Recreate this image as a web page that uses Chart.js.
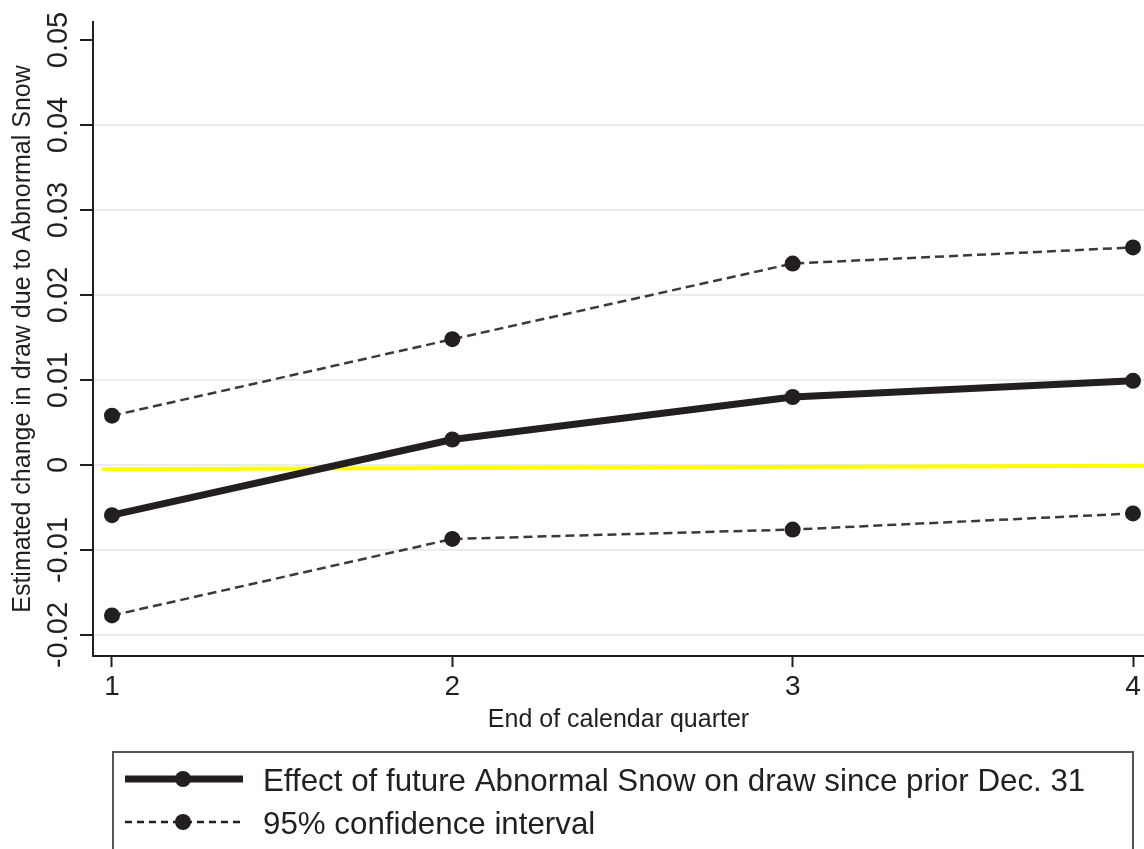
<!DOCTYPE html>
<html>
<head>
<meta charset="utf-8">
<script src="https://cdn.jsdelivr.net/npm/chart.js@4.4.1/dist/chart.umd.min.js"></script>
<style>
  html, body { margin: 0; padding: 0; background: #fff; }
  canvas { display: block; }
</style>
</head>
<body>
<canvas id="chart" width="1144" height="849"></canvas>
<script>
// values
var quarters = [1, 2, 3, 4];
var estimate = [-0.0059, 0.0030, 0.0080, 0.0099];
var upperCI = [0.0058, 0.0148, 0.0237, 0.0256];
var lowerCI = [-0.0177, -0.0087, -0.0076, -0.0057];
var refLineX = [0.97, 4.04];
var refLineY = [-0.0005, -0.0001];
var yTicks = [-0.02, -0.01, 0, 0.01, 0.02, 0.03, 0.04, 0.05];
var yTickLabels = ['-0.02', '-0.01', '0', '0.01', '0.02', '0.03', '0.04', '0.05'];
var xTickLabels = ['1', '2', '3', '4'];
var legendLabels = ['Effect of future Abnormal Snow on draw since prior Dec. 31', '95% confidence interval'];

var ink = '#231f20';
var fontFamily = '"Liberation Sans", Arial, Helvetica, sans-serif';

function toPoints(xs, ys) {
  return xs.map(function(x, i) { return {x: x, y: ys[i]}; });
}

// tick labels drawn here (y ones are rotated), plus the legend with line+marker samples
var extras = {
  id: 'extras',
  afterDraw: function(chart) {
    var ctx = chart.ctx;
    var yScale = chart.scales.y;
    var xScale = chart.scales.x;
    ctx.save();
    ctx.fillStyle = ink;
    ctx.font = '29px ' + fontFamily;
    ctx.textAlign = 'center';
    ctx.textBaseline = 'alphabetic';
    yTicks.forEach(function(v, i) {
      var py = yScale.getPixelForValue(v);
      ctx.save();
      ctx.translate(67, py);
      ctx.rotate(-Math.PI / 2);
      ctx.fillText(yTickLabels[i], 0, 0);
      ctx.restore();
    });
    ctx.font = '28px ' + fontFamily;
    quarters.forEach(function(q, i) {
      ctx.fillText(xTickLabels[i], xScale.getPixelForValue(q), 695);
    });

    // legend box
    ctx.strokeStyle = '#555';
    ctx.lineWidth = 2;
    ctx.strokeRect(113, 752, 1020, 200);

    var rows = [
      {y: 779, width: 7, dash: [], text: legendLabels[0], base: 791},
      {y: 822, width: 2.5, dash: [7, 5], text: legendLabels[1], base: 834}
    ];
    rows.forEach(function(r) {
      ctx.strokeStyle = ink;
      ctx.lineWidth = r.width;
      ctx.setLineDash(r.dash);
      ctx.beginPath();
      ctx.moveTo(125, r.y);
      ctx.lineTo(243, r.y);
      ctx.stroke();
      ctx.setLineDash([]);
      ctx.beginPath();
      ctx.arc(183, r.y, 8, 0, Math.PI * 2);
      ctx.fill();
      ctx.font = '31.3px ' + fontFamily;
      ctx.textAlign = 'left';
      ctx.fillText(r.text, 263, r.base);
    });
    ctx.restore();
  }
};

var chart = new Chart('chart', {
  type: 'line',
  data: {
    datasets: [
      {
        label: legendLabels[0],
        data: toPoints(quarters, estimate),
        borderColor: ink,
        backgroundColor: ink,
        borderWidth: 7,
        pointRadius: 8,
        pointBorderWidth: 0
      },
      {
        label: legendLabels[1],
        data: toPoints(quarters, upperCI),
        borderColor: '#3a3a3a',
        backgroundColor: ink,
        borderWidth: 2.5,
        borderDash: [9, 5],
        pointRadius: 8,
        pointBorderWidth: 0
      },
      {
        label: 'lower',
        data: toPoints(quarters, lowerCI),
        borderColor: '#3a3a3a',
        backgroundColor: ink,
        borderWidth: 2.5,
        borderDash: [9, 5],
        pointRadius: 8,
        pointBorderWidth: 0
      },
      {
        label: 'zero',
        data: toPoints(refLineX, refLineY),
        borderColor: '#ffff00',
        borderWidth: 4,
        pointRadius: 0
      }
    ]
  },
  options: {
    responsive: false,
    animation: false,
    events: [],
    layout: {
      autoPadding: false,
      padding: {left: 0, top: 22, right: 0, bottom: 108}
    },
    plugins: {
      legend: {display: false},
      tooltip: {enabled: false}
    },
    scales: {
      x: {
        type: 'linear',
        min: 0.9442,
        max: 4.0323,
        afterBuildTicks: function(scale) {
          scale.ticks = quarters.map(function(v) { return {value: v}; });
        },
        afterFit: function(scale) { scale.height = 85; },
        border: {display: true, color: ink, width: 2},
        grid: {drawOnChartArea: false, tickLength: 11, tickColor: ink, tickWidth: 2},
        ticks: {display: false},
        title: {
          display: true,
          text: 'End of calendar quarter',
          color: ink,
          font: {family: fontFamily, size: 25},
          padding: {top: 0, bottom: 6}
        }
      },
      y: {
        min: -0.02247,
        max: 0.05212,
        afterBuildTicks: function(scale) {
          scale.ticks = yTicks.map(function(v) { return {value: v}; });
        },
        afterFit: function(scale) { scale.width = 93; },
        border: {display: true, color: ink, width: 2},
        grid: {
          color: function(c) { return c.tick && c.tick.value === 0.05 ? 'rgba(0,0,0,0)' : '#ececec'; },
          lineWidth: 2,
          tickLength: 13,
          tickColor: ink,
          tickWidth: 2
        },
        ticks: {display: false},
        title: {
          display: true,
          text: 'Estimated change in draw due to Abnormal Snow',
          color: ink,
          font: {family: fontFamily, size: 25},
          padding: {top: 8, bottom: 0}
        }
      }
    }
  },
  plugins: [extras]
});
</script>
</body>
</html>
